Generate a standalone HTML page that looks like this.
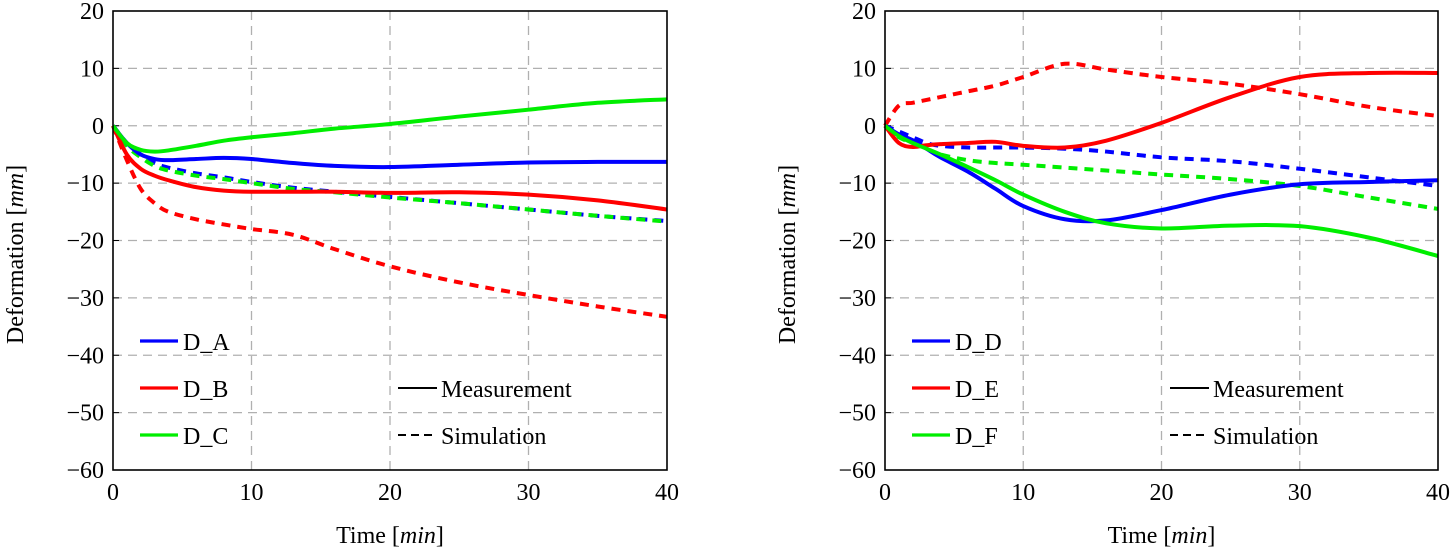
<!DOCTYPE html>
<html><head><meta charset="utf-8"><style>
body{margin:0;background:#fff}
svg text{font-family:"Liberation Serif",serif;font-size:24px;fill:#000}
</style></head><body>
<svg id="c" width="1453" height="551" xmlns="http://www.w3.org/2000/svg"></svg>
<script>
const times=[0,1,2,3,4,6,8,10,13,16,20,25,30,35,40];
const dA_meas=[0,-3,-5,-5.8,-6,-5.8,-5.6,-5.8,-6.5,-7,-7.2,-6.8,-6.4,-6.3,-6.3];
const dB_meas=[0,-5,-7.5,-8.7,-9.5,-10.7,-11.3,-11.5,-11.5,-11.5,-11.7,-11.6,-12,-13,-14.6];
const dC_meas=[0,-3,-4.2,-4.5,-4.3,-3.5,-2.6,-2,-1.3,-0.5,0.3,1.6,2.8,4,4.6];
const dA_sim=[0,-3,-5,-6.5,-7.3,-8.3,-9,-9.8,-10.8,-11.5,-12.4,-13.5,-14.6,-15.7,-16.6];
const dB_sim=[0,-6,-11,-13.5,-15,-16.3,-17.2,-18,-19,-21.5,-24.5,-27.3,-29.5,-31.5,-33.3];
const dC_sim=[0,-3.5,-5.5,-7,-7.8,-8.7,-9.3,-10,-11,-11.6,-12.5,-13.5,-14.6,-15.7,-16.7];
const dD_meas=[0,-1.5,-2.5,-4,-5.5,-8,-11,-14,-16.3,-16.5,-14.7,-12,-10.2,-9.8,-9.5];
const dE_meas=[0,-3,-3.7,-3.4,-3.2,-3,-2.8,-3.5,-3.8,-2.6,0.5,5,8.5,9.2,9.2];
const dF_meas=[0,-1.8,-3,-4,-5,-7.2,-9.5,-12,-15,-17,-17.9,-17.4,-17.5,-19.5,-22.7];
const dD_sim=[0,-1,-2,-3,-3.5,-3.8,-3.8,-3.8,-4,-4.5,-5.5,-6.2,-7.5,-9,-10.5];
const dE_sim=[0,3.5,4,4.5,5,6,7,8.5,10.8,9.8,8.5,7.3,5.5,3.3,1.7];
const dF_sim=[0,-2,-3,-4,-5,-6,-6.5,-6.8,-7.3,-7.8,-8.5,-9.3,-10.5,-12.5,-14.5];
const xTicks=[0,10,20,30,40];
const yTicks=[20,10,0,-10,-20,-30,-40,-50,-60];
const NS="http://www.w3.org/2000/svg";
const svg=document.getElementById('c');
function mk(t,a,p){const e=document.createElementNS(NS,t);for(const k in a)e.setAttribute(k,a[k]);(p||svg).appendChild(e);return e;}
function panel(x0,x1,series,names,pname){
  const g=mk('g',{});
  
  
  const y0=11,y1=470;
  const sx=v=>x0+(v-0)/40*(x1-x0);
  const sy=v=>y0+(20-v)/80*(y1-y0);
  xTicks.forEach(t=>{
    if(t>0&&t<40){const l=mk('line',{x1:sx(t),x2:sx(t),y1:y0,y2:y1,stroke:'#b0b0b0','stroke-width':1.3,'stroke-dasharray':'9,6'},g);}
    const tx=mk('text',{x:sx(t),y:500,'text-anchor':'middle'},g);tx.textContent=t;
    
  });
  yTicks.forEach(t=>{
    if(t<20&&t>-60){const l=mk('line',{x1:x0,x2:x1,y1:sy(t),y2:sy(t),stroke:'#b0b0b0','stroke-width':1.3,'stroke-dasharray':'9,6'},g);}
    mk('line',{x1:x0,x2:x0+6,y1:sy(t),y2:sy(t),stroke:'#000','stroke-width':1},g);
    const tx=mk('text',{x:x0-9,y:sy(t)+8,'text-anchor':'end'},g);tx.textContent=(t<0?'\u2212'+(-t):t);
    
  });
  series.forEach(s=>{
    const pts=times.map((t,i)=>[sx(t),sy(s.v[i])]);
    let d='M'+pts[0][0]+','+pts[0][1];
    for(let i=0;i<pts.length-1;i++){
      const p0=pts[Math.max(0,i-1)],p1=pts[i],p2=pts[i+1],p3=pts[Math.min(pts.length-1,i+2)];
      const c1=[p1[0]+(p2[0]-p0[0])/6,p1[1]+(p2[1]-p0[1])/6],c2=[p2[0]-(p3[0]-p1[0])/6,p2[1]-(p3[1]-p1[1])/6];
      d+=`C${c1[0]},${c1[1]} ${c2[0]},${c2[1]} ${p2[0]},${p2[1]}`;
    }
    const p=mk('path',{d:d,fill:'none',stroke:s.c,'stroke-width':4,'stroke-dasharray':s.dash?'9,7':'none'},g);
    
    
  });
  const fr=mk('rect',{x:x0,y:y0,width:x1-x0,height:y1-y0,fill:'none',stroke:'#000','stroke-width':1.6},g);
  
  const xt=mk('text',{x:(x0+x1)/2,y:543,'text-anchor':'middle','font-size':'25px'},g);
  xt.innerHTML='Time [<tspan font-style="italic">min</tspan>]';
  
  const yx=x0-90,yc=(y0+y1)/2+14;
  const yt=mk('text',{x:yx,y:yc,'text-anchor':'middle','font-size':'26px',transform:`rotate(-90 ${yx} ${yc})`},g);
  yt.innerHTML='Deformation [<tspan font-style="italic">mm</tspan>]';
  
  const cols=['#0000ff','#ff0000','#00ee00'];
  names.forEach((n,i)=>{
    const y=341+i*47;
    const l=mk('line',{x1:x0+27,x2:x0+65,y1:y,y2:y,stroke:cols[i],'stroke-width':3.2},g);
    
    const t=mk('text',{x:x0+70,y:y+9,'font-size':'25px'},g);t.textContent=n;
    
  });
  [['Measurement','none',388],['Simulation','8,5',435]].forEach(a=>{
    mk('line',{x1:x0+285,x2:x0+324,y1:a[2],y2:a[2],stroke:'#000','stroke-width':2,'stroke-dasharray':a[1]},g);
    const t=mk('text',{x:x0+328,y:a[2]+9,'font-size':'25.5px'},g);t.textContent=a[0];
    
  });
}
panel(113,667,[
 {v:dA_sim,c:'#0000ff',dash:1,n:'d-a-simulation'},{v:dB_sim,c:'#ff0000',dash:1,n:'d-b-simulation'},{v:dC_sim,c:'#00ee00',dash:1,n:'d-c-simulation'},
 {v:dA_meas,c:'#0000ff',n:'d-a-measurement'},{v:dB_meas,c:'#ff0000',n:'d-b-measurement'},{v:dC_meas,c:'#00ee00',n:'d-c-measurement'}],
 ['D_A','D_B','D_C'],'left-panel');
panel(885,1438,[
 {v:dD_sim,c:'#0000ff',dash:1,n:'d-d-simulation'},{v:dE_sim,c:'#ff0000',dash:1,n:'d-e-simulation'},{v:dF_sim,c:'#00ee00',dash:1,n:'d-f-simulation'},
 {v:dD_meas,c:'#0000ff',n:'d-d-measurement'},{v:dE_meas,c:'#ff0000',n:'d-e-measurement'},{v:dF_meas,c:'#00ee00',n:'d-f-measurement'}],
 ['D_D','D_E','D_F'],'right-panel');
</script>
</body></html>
